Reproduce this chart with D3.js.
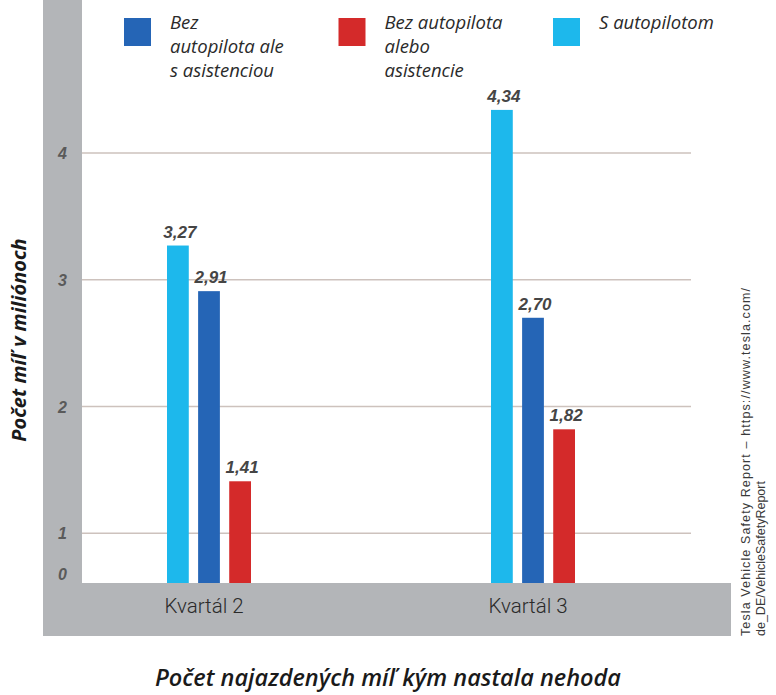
<!DOCTYPE html>
<html>
  <head>
    <meta charset="utf-8">
    <script src="https://cdnjs.cloudflare.com/ajax/libs/d3/7.8.5/d3.min.js"></script>
    <style>
      body { margin: 0; background: #fff; }
    </style>
  </head>
  <body>
    <div id="vis"></div>
    <script type="text/javascript">

        // data
        const quarters = ["Kvartál 2", "Kvartál 3"];
        const seriesKeys = ["auto", "assist", "none"];
        const autopilotValues = [3.27, 4.34];
        const assistValues = [2.91, 2.70];
        const noneValues = [1.41, 1.82];
        const yTickValues = [1, 2, 3, 4];
        const legendKeys = ["assist", "none", "auto"];
        const legendLines = {
            assist: ["Bez", "autopilota ale", "s asistenciou"],
            none: ["Bez autopilota", "alebo", "asistencie"],
            auto: ["S autopilotom"]
        };
        const sourceLines = ["Tesla Vehicle Safety Report \u2013 https://www.tesla.com/",
                             "de_DE/VehicleSafetyReport"];

        const colors = { auto: "#1db8ec", assist: "#2565b6", none: "#d42a2a" };
        const values = { auto: autopilotValues, assist: assistValues, none: noneValues };

        const W = 776, H = 695;
        const grayLeft = 43, grayRight = 82, plotRight = 731;
        const bandTop = 583, bandBottom = 636;

        const svg = d3.select("#vis")
            .append("svg")
            .attr("width", W)
            .attr("height", H);

        svg.append("defs").append("clipPath")
            .attr("id", "plotClip")
            .append("rect")
            .attr("x", grayRight).attr("y", 0)
            .attr("width", plotRight - grayRight).attr("height", bandTop);

        const y = d3.scaleLinear().domain([0, 4]).range([660, 153]);
        const x0 = d3.scalePoint().domain(quarters).range([209, 533]);
        const x1 = d3.scaleBand().domain(seriesKeys).range([-42, 42]).paddingInner(0.3);

        // grid lines
        svg.append("g")
            .selectAll("line")
            .data(yTickValues)
            .join("line")
            .attr("x1", grayRight)
            .attr("x2", plotRight - 40)
            .attr("y1", d => y(d))
            .attr("y2", d => y(d))
            .attr("stroke", "#cdc2bd")
            .attr("stroke-width", 1.5);

        // bars
        const rows = [];
        quarters.forEach((q, qi) => {
            seriesKeys.forEach(k => rows.push({ q: q, key: k, value: values[k][qi] }));
        });

        svg.append("g")
            .attr("clip-path", "url(#plotClip)")
            .selectAll("rect")
            .data(rows)
            .join("rect")
            .attr("x", d => x0(d.q) + x1(d.key))
            .attr("y", d => y(d.value))
            .attr("width", x1.bandwidth())
            .attr("height", d => y(0) - y(d.value))
            .attr("fill", d => colors[d.key]);

        const fmt = v => d3.format(".2f")(v).replace(".", ",");
        svg.append("g")
            .selectAll("text")
            .data(rows)
            .join("text")
            .attr("x", d => x0(d.q) + x1(d.key) + x1.bandwidth() / 2 + 2)
            .attr("y", d => y(d.value) - 8)
            .attr("text-anchor", "middle")
            .style("font-family", "Liberation Sans, Arial, sans-serif")
            .style("font-weight", "bold")
            .style("font-style", "italic")
            .style("font-size", "17px")
            .attr("fill", "#454545")
            .text(d => fmt(d.value));

        // gray frame: left column and bottom band
        svg.append("rect")
            .attr("x", grayLeft).attr("y", 0)
            .attr("width", grayRight - grayLeft).attr("height", bandBottom)
            .attr("fill", "#b3b5b8");
        svg.append("rect")
            .attr("x", grayLeft).attr("y", bandTop)
            .attr("width", plotRight - grayLeft).attr("height", bandBottom - bandTop)
            .attr("fill", "#b3b5b8");

        // y tick labels
        const tickStyle = sel => sel
            .attr("text-anchor", "middle")
            .style("font-family", "Liberation Sans, Arial, sans-serif")
            .style("font-weight", "bold")
            .style("font-style", "italic")
            .style("font-size", "16px")
            .attr("fill", "#5a5a5a");
        svg.append("g")
            .selectAll("text")
            .data(yTickValues)
            .join("text")
            .attr("x", (grayLeft + grayRight) / 2)
            .attr("y", d => y(d) + 6)
            .call(tickStyle)
            .text(d => d);
        svg.append("text")
            .attr("x", (grayLeft + grayRight) / 2)
            .attr("y", bandTop - 3)
            .call(tickStyle)
            .text("0");

        // quarter labels
        svg.append("g")
            .selectAll("text")
            .data(quarters)
            .join("text")
            .attr("x", d => x0(d) - 5)
            .attr("y", 613)
            .attr("text-anchor", "middle")
            .style("font-family", "Roboto, sans-serif")
            .style("font-weight", "300")
            .style("font-size", "20.5px")
            .attr("fill", "#2a2a2a")
            .text(d => d);

        // axis titles
        svg.append("text")
            .attr("transform", "translate(26,340) rotate(-90)")
            .attr("text-anchor", "middle")
            .style("font-family", "Open Sans, sans-serif")
            .style("font-weight", "bold")
            .style("font-style", "italic")
            .style("font-size", "20px")
            .attr("fill", "#1a1a1a")
            .text("Počet míľ v miliónoch");

        svg.append("text")
            .attr("x", 388)
            .attr("y", 686)
            .attr("text-anchor", "middle")
            .style("font-family", "Open Sans, sans-serif")
            .style("font-weight", "600")
            .style("font-style", "italic")
            .style("font-size", "23.5px")
            .attr("fill", "#1a1a1a")
            .text("Počet najazdených míľ kým nastala nehoda");

        // legend
        const lx = d3.scalePoint().domain(legendKeys).range([124, 553]);
        const leg = svg.append("g")
            .selectAll("g")
            .data(legendKeys)
            .join("g")
            .attr("transform", d => "translate(" + lx(d) + ",18)");
        leg.append("rect")
            .attr("width", 27).attr("height", 28)
            .attr("fill", d => colors[d]);
        leg.append("text")
            .attr("y", 11)
            .style("font-family", "Open Sans, sans-serif")
            .style("font-style", "italic")
            .style("font-weight", "400")
            .style("font-size", "18.5px")
            .attr("fill", "#2a2a2a")
            .selectAll("tspan")
            .data(d => legendLines[d])
            .join("tspan")
            .attr("x", 46)
            .attr("dy", (d, i) => i === 0 ? 0 : 24)
            .text(d => d);

        // source note
        svg.append("g")
            .selectAll("text")
            .data(sourceLines)
            .join("text")
            .attr("transform", (d, i) => "translate(" + (750 + i * 15) + "," + bandBottom + ") rotate(-90)")
            .attr("textLength", (d, i) => i === 0 ? 348 : null)
            .attr("lengthAdjust", "spacing")
            .style("font-family", "Liberation Sans, Arial, sans-serif")
            .style("font-size", "12.5px")
            .attr("fill", "#3a3a3a")
            .text(d => d);

    </script>
  </body>
</html>
